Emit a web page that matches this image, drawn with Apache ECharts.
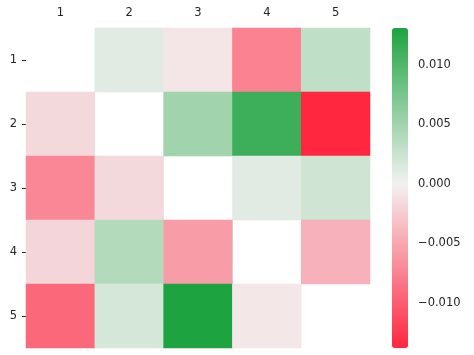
<!DOCTYPE html>
<html>
<head>
<meta charset="utf-8">
<script src="https://cdn.jsdelivr.net/npm/echarts@6/dist/echarts.min.js"></script>
<style>html,body{margin:0;padding:0;background:#fff}#c{width:474px;height:355px}</style>
</head>
<body>
<div id="c"></div>
<script>
// ---- data ----
const xCategories = ['1', '2', '3', '4', '5'];
const yCategories = ['1', '2', '3', '4', '5'];
// rows (y) top to bottom; null = masked diagonal
const row1 = [null, 0.0011, -0.0008, -0.0075, 0.0031];
const row2 = [-0.0016, null, 0.0050, 0.0112, -0.0138];
const row3 = [-0.0072, -0.0016, null, 0.0011, 0.0022];
const row4 = [-0.0018, 0.0039, -0.0058, null, -0.0043];
const row5 = [-0.0093, 0.0018, 0.0131, -0.0007, null];
const colorbarTicks = [-0.010, -0.005, 0.000, 0.005, 0.010];
const vMin = -0.0138, vMax = 0.0131;

const rows = [row1, row2, row3, row4, row5];
const heatData = [];
rows.forEach((r, yi) => r.forEach((v, xi) => { if (v !== null) heatData.push([xi, yi, v]); }));

// diverging colormap red - light - green, centered on 0
const cRed = [255, 38, 64], cMid = [243, 241, 241], cGreen = [18, 160, 55];
const vr = Math.max(Math.abs(vMin), Math.abs(vMax));
function cmap(v) {
  const t = Math.max(-1, Math.min(1, v / vr));
  const end = t < 0 ? cRed : cGreen;
  const a = Math.abs(t);
  const c = cMid.map((m, i) => Math.round(m + (end[i] - m) * a));
  return 'rgb(' + c.join(',') + ')';
}
const stops = [];
const N = 60;
for (let i = 0; i <= N; i++) stops.push(cmap(vMin + (vMax - vMin) * i / N));

const txt = '#262626';
const ff = 'DejaVu Sans';
const chart = echarts.init(document.getElementById('c'), null, {renderer: 'canvas'});
chart.setOption({
  animation: false,
  backgroundColor: '#fff',
  textStyle: {fontFamily: ff},
  grid: [
    {left: 26, top: 28, width: 344, height: 320},
    {left: 392, top: 28, width: 16, height: 320}
  ],
  xAxis: [
    {type: 'category', data: xCategories, position: 'top', gridIndex: 0,
     axisLine: {show: false}, axisTick: {show: false},
     axisLabel: {color: txt, fontSize: 11.5, fontFamily: ff, margin: 9},
     splitLine: {show: false}},
    {type: 'value', gridIndex: 1, show: false, min: 0, max: 1}
  ],
  yAxis: [
    {type: 'category', data: yCategories, inverse: true, gridIndex: 0,
     axisLine: {show: false},
     axisTick: {show: true, alignWithLabel: true, length: 4, lineStyle: {color: txt, width: 1}},
     axisLabel: {color: txt, fontSize: 11.5, fontFamily: ff, margin: 9},
     splitLine: {show: false}},
    {type: 'value', gridIndex: 1, position: 'right', min: vMin, max: vMax,
     axisLine: {show: false},
     axisTick: {show: true, length: 4, lineStyle: {color: txt, width: 1}, customValues: colorbarTicks},
     axisLabel: {color: txt, fontSize: 11.5, fontFamily: ff, margin: 10, customValues: colorbarTicks,
       formatter: v => (v < 0 ? '\u2212' : '') + Math.abs(v).toFixed(3)},
     splitLine: {show: false}}
  ],
  visualMap: {
    type: 'continuous', min: vMin, max: vMax, seriesIndex: 0,
    calculable: false, orient: 'vertical', left: 392, top: 28, padding: 0,
    itemWidth: 16, itemHeight: 320, text: null, showLabel: false, hoverLink: false,
    inRange: {color: stops}
  },
  series: [
    {type: 'heatmap', xAxisIndex: 0, yAxisIndex: 0, data: heatData,
     itemStyle: {borderWidth: 0}, emphasis: {disabled: true}},
    {type: 'scatter', xAxisIndex: 1, yAxisIndex: 1, data: [], silent: true}
  ]
});
</script>
</body>
</html>
